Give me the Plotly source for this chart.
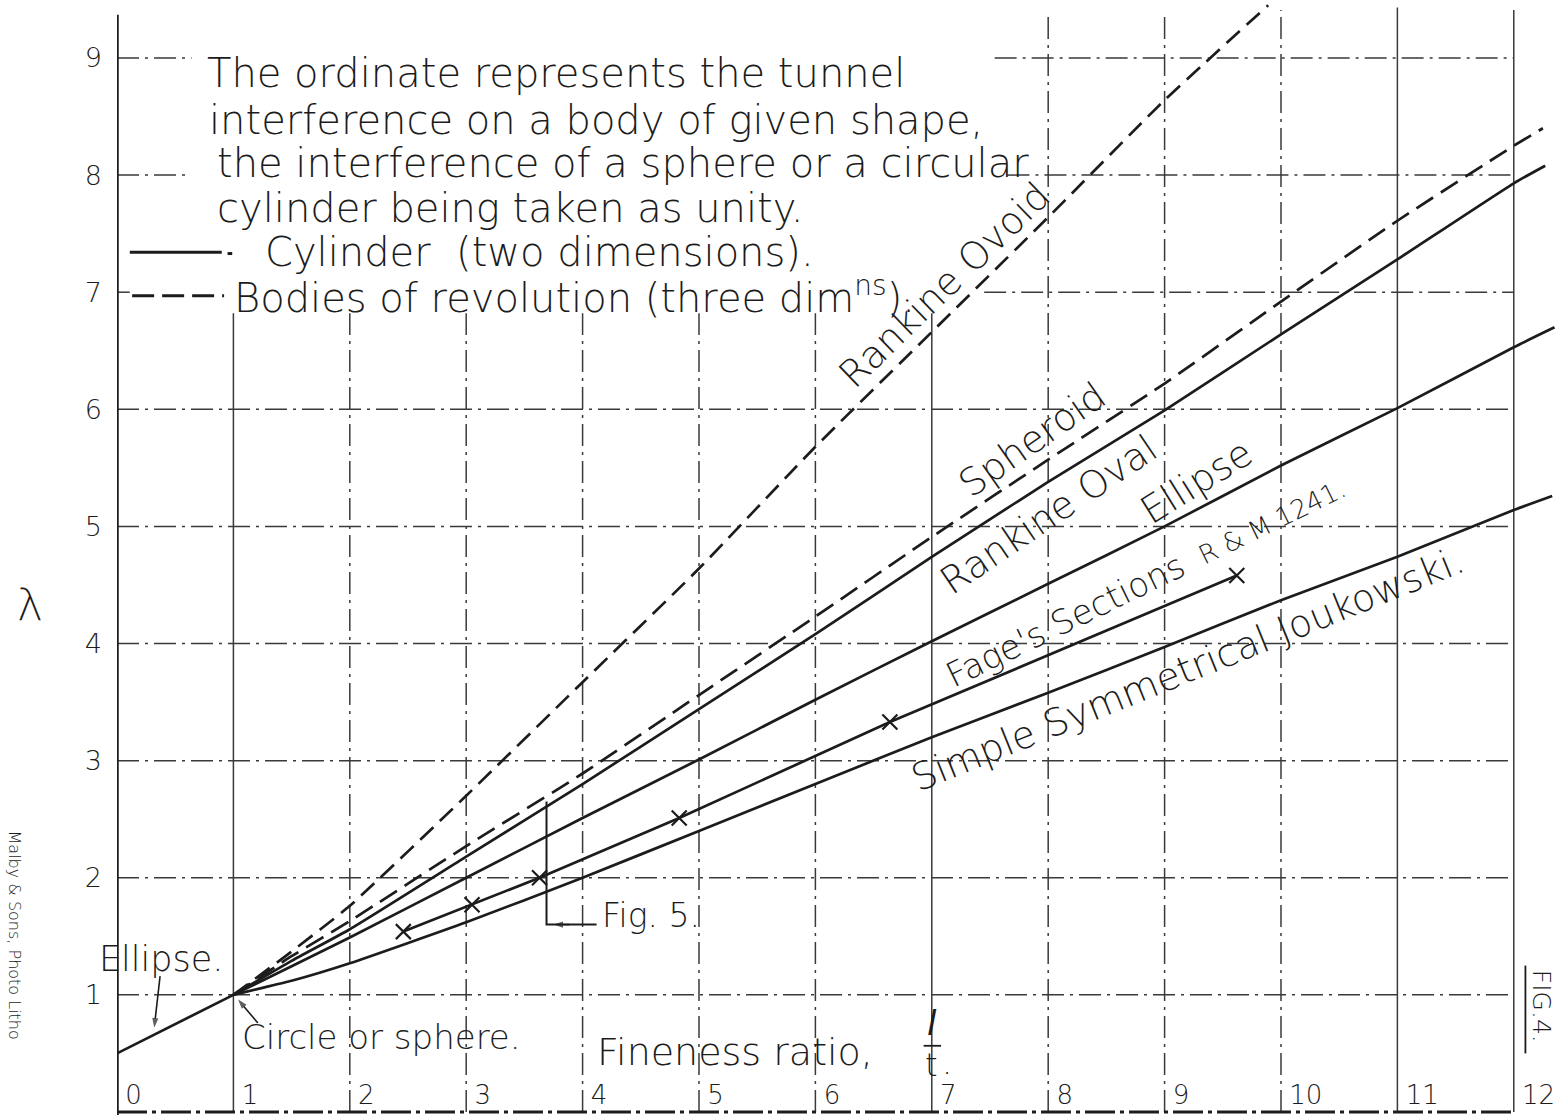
import plotly.graph_objects as go

# ---------------- data ----------------
x_ticks = list(range(0, 13))
x_tick_labels = [str(v) for v in x_ticks]
y_ticks = list(range(1, 10))
y_tick_labels = [str(v) for v in y_ticks]

# Cylinder (two dimensions) - solid lines
ellipse_x = [0, 1, 2, 3, 4, 5, 6, 7, 8, 9, 10, 11, 12, 12.35]
ellipse_y = [0.5, 1.0, 1.49, 2.0, 2.51, 3.01, 3.52, 4.02, 4.51, 5.0, 5.52, 6.01, 6.53, 6.7]

rankine_oval_x = [1, 1.5, 2, 3, 4, 5, 6, 7, 8, 9, 10, 11, 12, 12.27]
rankine_oval_y = [1.0, 1.29, 1.56, 2.18, 2.80, 3.44, 4.08, 4.74, 5.38, 5.99, 6.64, 7.28, 7.93, 8.08]

fage_x = [2.46, 3.05, 3.63, 4.83, 6.64, 9.62]
fage_y = [1.54, 1.77, 2.0, 2.51, 3.33, 4.58]

joukowski_x = [1, 1.25, 1.5, 2, 3, 4, 5, 6, 7, 8, 9, 10, 11, 12, 12.33]
joukowski_y = [1.0, 1.06, 1.12, 1.27, 1.62, 2.0, 2.4, 2.8, 3.2, 3.58, 3.97, 4.37, 4.74, 5.14, 5.26]

# Bodies of revolution (three dimensions) - dashed lines
spheroid_x = [1, 1.5, 2, 3, 4, 5, 6, 7, 8, 9, 10, 11, 12, 12.25]
spheroid_y = [1.0, 1.33, 1.63, 2.27, 2.89, 3.56, 4.23, 4.91, 5.57, 6.22, 6.92, 7.61, 8.25, 8.4]

rankine_ovoid_x = [1, 1.5, 2, 3, 4, 5, 6, 7, 8, 9, 9.89]
rankine_ovoid_y = [1.0, 1.37, 1.76, 2.70, 3.67, 4.64, 5.68, 6.66, 7.64, 8.64, 9.45]

# Fig. 5 bracket (fineness ratio and lambda span)
fig5_x = 3.69
fig5_y_range = [1.6, 2.65]

note_lines = [
    "The ordinate represents the tunnel",
    "interference on a body of given shape,",
    "the interference of a sphere or a circular",
    "cylinder being taken as unity.",
]
legend_2d = "Cylinder  (two dimensions)."
legend_3d = "Bodies of revolution (three dim<sup>ns</sup>)."

# ---------------- styling ----------------
INK = "#1c1c1c"
GRID = "#3a3a3a"
FONT = "DejaVu Sans"
WEIGHT = 300
X_MAX = 12.44
Y_MIN, Y_MAX = -0.026, 9.495

fig = go.Figure()

def curve(x, y, dash="solid", name=""):
    fig.add_trace(go.Scatter(
        x=x, y=y, mode="lines", name=name,
        line=dict(color=INK, width=2.7, dash=dash, shape="spline", smoothing=0.5),
        hoverinfo="skip"))

curve(ellipse_x, ellipse_y, name="Ellipse")
curve(rankine_oval_x, rankine_oval_y, name="Rankine Oval")
curve(joukowski_x, joukowski_y, name="Simple Symmetrical Joukowski")
curve(spheroid_x, spheroid_y, dash="20px,9px", name="Spheroid")
curve(rankine_ovoid_x, rankine_ovoid_y, dash="18px,9px", name="Rankine Ovoid")
fig.add_trace(go.Scatter(
    x=fage_x, y=fage_y, mode="lines+markers", name="Fage's Sections R&M 1241",
    line=dict(color=INK, width=2.7),
    marker=dict(symbol="x-thin", size=15, line=dict(color=INK, width=2.2)),
    hoverinfo="skip"))

# Fig. 5 bracket
fig.add_trace(go.Scatter(
    x=[fig5_x, fig5_x, fig5_x + 0.43], y=[fig5_y_range[1], fig5_y_range[0], fig5_y_range[0]],
    mode="lines", line=dict(color=INK, width=2), hoverinfo="skip", name="Fig. 5"))

# pointer arrows (tail -> tip)
arrows = [((0.37, 1.16), (0.32, 0.72)),
          ((1.21, 0.76), (1.04, 0.96)),
          ((fig5_x + 0.2, fig5_y_range[0]), (fig5_x + 0.06, fig5_y_range[0]))]
for tail, tip in arrows:
    fig.add_trace(go.Scatter(
        x=[tail[0], tip[0]], y=[tail[1], tip[1]], mode="lines+markers",
        line=dict(color=INK, width=1.6),
        marker=dict(symbol=["circle", "arrow"], size=[0, 10], angleref="previous",
                    color=INK, line=dict(width=0)),
        hoverinfo="skip", name="pointer"))

shapes = []
# grid lines (hand drawn, mostly chain lines)
CHAIN = "22px,6px,3px,6px"
v_grid = [
    (1, 6.82, "solid"), (2, 6.82, CHAIN), (3, 6.82, CHAIN), (4, 6.82, CHAIN),
    (5, 6.82, CHAIN), (6, 6.82, CHAIN), (7, 6.82, "solid"), (8, 9.38, CHAIN),
    (9, 9.38, CHAIN), (10, 9.41, CHAIN), (11, 9.43, "solid"), (12, 9.41, "solid"),
]
for xv, top, dash in v_grid:
    shapes.append(dict(type="line", xref="x", yref="y", x0=xv, x1=xv, y0=0, y1=top,
                       line=dict(color=GRID, width=1.5, dash=dash), layer="below"))
h_grid = [(1, 0, 12), (2, 0, 12), (3, 0, 12), (4, 0, 12), (5, 0, 12), (6, 0, 12),
          (7, 0, 0.11), (7, 7.45, 12), (8, 0, 0.6), (8, 7.65, 12), (9, 0, 0.64), (9, 7.54, 12)]
for yv, x0, x1 in h_grid:
    shapes.append(dict(type="line", xref="x", yref="y", x0=x0, x1=x1, y0=yv, y1=yv,
                       line=dict(color=GRID, width=1.5, dash=CHAIN), layer="below"))
# axes
shapes.append(dict(type="line", xref="x", yref="y", x0=0, x1=0, y0=Y_MIN, y1=9.37,
                   line=dict(color=INK, width=3.5)))
shapes.append(dict(type="line", xref="x", yref="y", x0=0, x1=12, y0=0, y1=0,
                   line=dict(color=INK, width=3, dash="30px,5px,4px,5px")))
# legend samples
shapes.append(dict(type="line", xref="x", yref="y", x0=0.11, x1=0.90, y0=7.34, y1=7.34,
                   line=dict(color=INK, width=3)))
shapes.append(dict(type="line", xref="x", yref="y", x0=0.95, x1=0.99, y0=7.33, y1=7.33,
                   line=dict(color=INK, width=3)))
shapes.append(dict(type="line", xref="x", yref="y", x0=0.13, x1=0.92, y0=6.97, y1=6.97,
                   line=dict(color=INK, width=3, dash="22px,8px")))
# fraction bar l/t
shapes.append(dict(type="line", xref="x", yref="y", x0=6.93, x1=7.08, y0=0.565, y1=0.565,
                   line=dict(color=INK, width=1.8)))
# FIG.4 rule
shapes.append(dict(type="line", xref="x", yref="y", x0=12.1, x1=12.1, y0=0.5, y1=1.25,
                   line=dict(color=INK, width=1.8)))

ann = []
def text(x, y, s, size=38, angle=0, xanchor="center", xref="x", yref="y", **kw):
    ann.append(dict(x=x, y=y, xref=xref, yref=yref, text=s, showarrow=False,
                    textangle=angle, xanchor=xanchor, yanchor="middle",
                    font=dict(family=FONT, size=size, color=INK, weight=WEIGHT, **kw)))

note_pos = [(0.756, 8.87), (0.773, 8.47), (0.84, 8.1), (0.84, 7.72)]
for (nx, ny), s in zip(note_pos, note_lines):
    text(nx, ny, s, size=40, xanchor="left")
text(1.25, 7.34, legend_2d, size=40, xanchor="left")
text(0.99, 6.98, legend_3d, size=40, xanchor="left")

# curve labels
text(7.11, 7.06, "Rankine Ovoid", size=38, angle=-44)
text(7.86, 5.74, "Spheroid", size=38, angle=-35)
text(8.0, 5.1, "Rankine Oval", size=38, angle=-34)
text(9.27, 5.38, "Ellipse", size=38, angle=-32)
text(8.15, 4.2, "Fage's Sections", size=34, angle=-26)
text(9.92, 5.04, "R &amp; M 1241.", size=26, angle=-26)
text(9.2, 3.78, "Simple Symmetrical Joukowski.", size=38, angle=-22)

text(0.38, 1.31, "Ellipse.", size=35)
text(1.06, 0.64, "Circle or sphere.", size=34, xanchor="left")
text(4.15, 1.68, "Fig. 5.", size=33, xanchor="left")
text(4.11, 0.51, "Fineness ratio,", size=38, xanchor="left")
text(7.0, 0.76, "<i>l</i>", size=34)
text(7.0, 0.40, "t", size=32)
text(7.13, 0.42, ".", size=32)
text(12.24, 0.9, "FIG.4.", size=25, angle=90)

text(-0.060, 0.457, "λ", size=44, xref="paper", yref="paper")
text(-0.0705, 0.161, "Malby &amp; Sons, Photo Litho", size=16, angle=90, xref="paper", yref="paper")

fig.update_layout(
    width=1565, height=1115,
    margin=dict(l=117, r=0, t=0, b=0),
    paper_bgcolor="white", plot_bgcolor="white",
    showlegend=False,
    font=dict(family=FONT, color=INK),
    shapes=shapes, annotations=ann,
)
nb = "\u00a0"
fig.update_xaxes(range=[0, X_MAX], tickvals=x_ticks, ticktext=[nb + t for t in x_tick_labels],
                 ticklabelposition="inside right", ticks="", showgrid=False,
                 zeroline=False, showline=False,
                 tickfont=dict(size=26, family=FONT, color=INK, weight=WEIGHT))
fig.update_yaxes(range=[Y_MIN, Y_MAX], tickvals=y_ticks, ticktext=y_tick_labels,
                 ticks="", ticklabelstandoff=14, showgrid=False, zeroline=False,
                 showline=False, tickfont=dict(size=27, family=FONT, color=INK, weight=WEIGHT))

fig.write_html("out.html", config={"displayModeBar": False})
